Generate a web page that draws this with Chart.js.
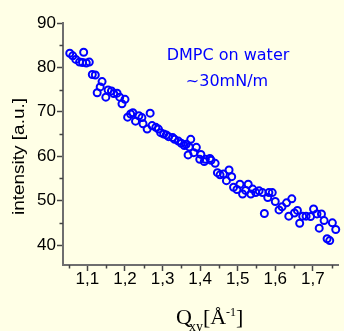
<!DOCTYPE html>
<html>
<head>
<meta charset="utf-8">
<script src="https://cdn.jsdelivr.net/npm/chart.js@4.4.0/dist/chart.umd.min.js"></script>
<style>
  html, body { margin: 0; padding: 0; background: #ffffe6; }
</style>
</head>
<body>
<canvas id="gixdChart" width="344" height="331"></canvas>
<script>
// data
const qxy = [
  1.053, 1.061, 1.069, 1.079, 1.087, 1.090, 1.097, 1.105, 1.113, 1.121,
  1.126, 1.134, 1.139, 1.149, 1.155, 1.164, 1.170, 1.179, 1.186, 1.192,
  1.200, 1.207, 1.215, 1.221, 1.228, 1.237, 1.245, 1.248, 1.259, 1.267,
  1.272, 1.282, 1.289, 1.295, 1.303, 1.310, 1.316, 1.327, 1.332, 1.342,
  1.350, 1.358, 1.363, 1.368, 1.371, 1.375, 1.383, 1.390, 1.399, 1.402,
  1.411, 1.414, 1.426, 1.429, 1.440, 1.446, 1.453, 1.462, 1.470, 1.477,
  1.484, 1.489, 1.498, 1.506, 1.513, 1.521, 1.528, 1.535, 1.540, 1.548,
  1.557, 1.566, 1.571, 1.580, 1.583, 1.592, 1.600, 1.610, 1.618, 1.630,
  1.636, 1.644, 1.651, 1.659, 1.665, 1.673, 1.682, 1.694, 1.702, 1.711,
  1.717, 1.723, 1.730, 1.738, 1.745, 1.752, 1.761
];
const intensity = [
  83.2, 82.6, 81.8, 81.2, 81.1, 83.4, 81.0, 81.2, 78.4, 78.3,
  74.3, 75.6, 76.8, 73.3, 74.9, 74.7, 74.1, 74.2, 73.3, 71.8,
  72.8, 68.8, 69.5, 69.8, 67.9, 69.1, 68.7, 67.3, 66.1, 69.7,
  66.9, 66.5, 66.1, 65.3, 65.0, 64.8, 64.4, 64.2, 63.8, 63.4,
  62.9, 62.4, 62.7, 60.3, 62.1, 63.8, 60.8, 62.0, 59.3, 60.4,
  58.8, 59.3, 59.5, 59.1, 58.4, 56.3, 55.8, 56.0, 54.5, 56.9,
  55.4, 53.0, 52.5, 53.7, 51.5, 52.3, 53.7, 51.5, 52.6, 51.8,
  52.2, 51.8, 47.1, 50.7, 51.8, 51.8, 49.8, 47.9, 48.6, 49.5,
  46.5, 50.4, 47.2, 47.8, 44.9, 46.5, 46.5, 46.4, 48.1, 47.0,
  43.8, 47.0, 45.5, 41.4, 41.0, 45.0, 43.5
];
const xMajorTicks = [1.1, 1.2, 1.3, 1.4, 1.5, 1.6, 1.7];
const xMinorTicks = [1.05, 1.15, 1.25, 1.35, 1.45, 1.55, 1.65, 1.75];
const yMajorTicks = [40, 50, 60, 70, 80, 90];
const yMinorTicks = [45, 55, 65, 75, 85];
const noteLines = ['DMPC on water', '~30mN/m'];

const BG = '#ffffe6';
const BLUE = '#0000ff';
const AXIS = '#6e6e6e';

// background, minor ticks, axis titles and the note
const decor = {
  id: 'decor',
  beforeDraw(chart) {
    const c = chart.ctx;
    c.save();
    c.fillStyle = BG;
    c.fillRect(0, 0, chart.width, chart.height);
    c.restore();
  },
  afterDraw(chart) {
    const c = chart.ctx;
    const xs = chart.scales.x, ys = chart.scales.y;
    const area = chart.chartArea;
    c.save();
    c.strokeStyle = '#444';
    c.lineWidth = 1.5;
    c.beginPath();
    xMinorTicks.forEach(v => {
      const px = Math.round(xs.getPixelForValue(v)) + 0.5;
      c.moveTo(px, area.bottom);
      c.lineTo(px, area.bottom + 3.5);
    });
    yMinorTicks.forEach(v => {
      const py = Math.round(ys.getPixelForValue(v)) + 0.5;
      c.moveTo(area.left, py);
      c.lineTo(area.left - 3.5, py);
    });
    c.stroke();

    // y title, stretched a little along the text like the original
    c.fillStyle = '#000';
    c.font = '17px "Liberation Sans", Arial, sans-serif';
    const yTitle = 'intensity [a.u.]';
    const w = c.measureText(yTitle).width;
    c.translate(24, 156.5);
    c.rotate(-Math.PI / 2);
    c.scale(117 / w, 1);
    c.textAlign = 'center';
    c.textBaseline = 'alphabetic';
    c.fillText(yTitle, 0, 0);
    c.setTransform(1, 0, 0, 1, 0, 0);

    // x title: Q_xy [Å^-1]
    c.textAlign = 'left';
    let x = 176;
    const base = 324;
    c.font = '22px "Liberation Serif", "Times New Roman", serif';
    c.fillText('Q', x, base);
    x += c.measureText('Q').width - 3;
    c.font = '14px "Liberation Serif", "Times New Roman", serif';
    c.fillText('xy', x, base + 7);
    x += c.measureText('xy').width;
    c.font = '22px "Liberation Serif", "Times New Roman", serif';
    c.fillText('[Å', x, base);
    x += c.measureText('[Å').width;
    c.font = '12px "Liberation Serif", "Times New Roman", serif';
    c.fillText('-1', x, base - 8);
    x += c.measureText('-1').width;
    c.font = '22px "Liberation Serif", "Times New Roman", serif';
    c.fillText(']', x, base);

    // note
    c.fillStyle = BLUE;
    c.textAlign = 'center';
    c.font = '16px "DejaVu Sans", sans-serif';
    c.fillText(noteLines[0], 228, 59.5);
    c.fillText(noteLines[1], 227, 85.5);
    c.restore();
  }
};

new Chart(document.getElementById('gixdChart').getContext('2d'), {
  type: 'scatter',
  data: {
    datasets: [{
      data: qxy.map((q, i) => ({ x: q, y: intensity[i] })),
      pointStyle: 'circle',
      pointRadius: 3.5,
      pointBorderWidth: 2,
      borderColor: BLUE,
      backgroundColor: 'rgba(0,0,0,0)',
      clip: false
    }]
  },
  options: {
    responsive: false,
    animation: false,
    events: [],
    layout: { padding: { top: 23, right: 0, left: 0, bottom: 0 } },
    plugins: { legend: { display: false }, tooltip: { enabled: false } },
    scales: {
      x: {
        type: 'linear',
        min: 1.035, max: 1.767,
        afterBuildTicks: s => { s.ticks = xMajorTicks.map(v => ({ value: v })); },
        afterFit: s => { s.height = 66; },
        ticks: {
          autoSkip: false, maxRotation: 0, padding: -2, color: '#000',
          font: { family: '"Liberation Sans", Arial, sans-serif', size: 17 },
          callback: v => v.toFixed(1).replace('.', ',')
        },
        grid: { drawOnChartArea: false, tickLength: 6, tickColor: '#444', tickWidth: 1.5 },
        border: { display: true, color: AXIS, width: 2 }
      },
      y: {
        min: 35.5, max: 90,
        afterBuildTicks: s => { s.ticks = yMajorTicks.map(v => ({ value: v })); },
        afterFit: s => { s.width = 63; },
        ticks: {
          autoSkip: false, padding: 1, color: '#000',
          font: { family: '"Liberation Sans", Arial, sans-serif', size: 17 }
        },
        grid: { drawOnChartArea: false, tickLength: 6, tickColor: '#444', tickWidth: 1.5 },
        border: { display: true, color: AXIS, width: 2 }
      }
    }
  },
  plugins: [decor]
});
</script>
</body>
</html>
